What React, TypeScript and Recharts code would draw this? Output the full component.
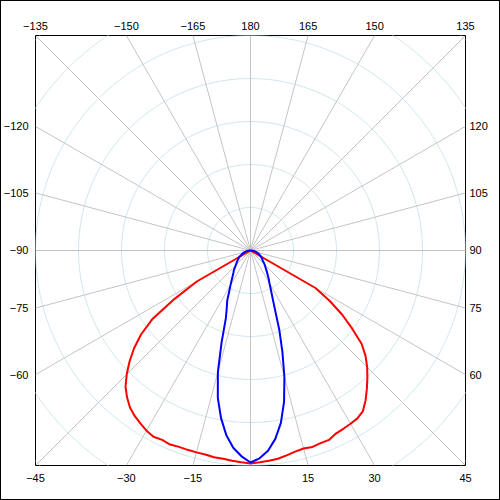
import React from 'react';
import { ScatterChart, Scatter, XAxis, YAxis } from 'recharts';

// Polar photometric diagram: gamma angle 0 points down, +90 to the right.
const EDGE = 215; // intensity at the plot edge
const RING_STEP = 43;
const RING_COUNT = 7;

const gammaAngles = [
  -90, -87.5, -85, -82.5, -80, -77.5, -75, -72.5, -70, -67.5, -65, -62.5,
  -60, -57.5, -55, -52.5, -50, -47.5, -45, -42.5, -40, -37.5, -35, -32.5,
  -30, -27.5, -25, -22.5, -20, -17.5, -15, -12.5, -10, -7.5, -5, -2.5,
  0,
  2.5, 5, 7.5, 10, 12.5, 15, 17.5, 20, 22.5, 25, 27.5, 30,
  32.5, 35, 37.5, 40, 42.5, 45, 47.5, 50, 52.5, 55, 57.5, 60,
  62.5, 65, 67.5, 70, 72.5, 75, 77.5, 80, 82.5, 85, 87.5, 90,
];

const redValues = [
  0, 0, 0, 0, 0, 0, 0, 0, 0, 0, 0, 0,
  62, 90, 120, 138, 152, 164, 175, 185, 192, 198, 202, 205,
  208, 210, 209, 210, 209, 209, 209, 209, 210, 210, 211, 212,
  213,
  212, 211, 210, 208, 206, 205, 206, 205, 205, 202, 201, 200,
  199, 196, 189, 181, 173, 165, 156, 145, 128, 112, 94, 75,
  0, 0, 0, 0, 0, 0, 0, 0, 0, 0, 0, 0,
];

const blueValues = [
  0, 1, 2, 3, 4, 5, 6, 7, 8, 9, 10, 11,
  13, 14, 15, 16, 18, 19, 21, 23, 26, 28, 31, 35,
  40, 46, 55, 62, 72, 96, 126, 151, 170, 186, 198, 206,
  212,
  208, 201, 190, 175, 155, 131, 106, 84, 64, 52, 44, 38,
  34, 30, 27, 24, 22, 20, 18, 16, 15, 14, 13, 12,
  11, 10, 9, 8, 7, 6, 5, 4, 3, 2, 1, 0,
];

const bottomLabels = [-45, -30, -15, 15, 30, 45];
const topLabels = [-135, -150, -165, 180, 165, 150, 135];
const leftLabels = [-60, -75, -90, -105, -120];
const rightLabels = [60, 75, 90, 105, 120];
const spokeAngles = [0, 15, 30, 45, 60, 75, 90, 105, 120, 135, 150, 165, 180, 195, 210, 225, 240, 255, 270, 285, 300, 315, 330, 345];

const RED = '#ff0000';
const BLUE = '#0000ff';
const RING_COLOR = '#cfe7ee';
const SPOKE_COLOR = '#c4c4c4';

const rad = (d: number) => (d * Math.PI) / 180;
const toXY = (deg: number, r: number) => ({ x: r * Math.sin(rad(deg)), y: -r * Math.cos(rad(deg)) });

const redPts = gammaAngles.map((a, i) => toXY(a, redValues[i]));
const bluePts = gammaAngles.map((a, i) => toXY(a, blueValues[i]));

const rings = Array.from({ length: RING_COUNT }, (_, k) => {
  const r = RING_STEP * (k + 1);
  const pts = [] as { x: number; y: number }[];
  for (let d = 0; d <= 360; d += 2) pts.push(toXY(d, r));
  return pts;
});

const spokes = spokeAngles.map((a) => {
  const s = Math.sin(rad(a));
  const c = -Math.cos(rad(a));
  const t = EDGE / Math.max(Math.abs(s), Math.abs(c));
  return [{ x: 0, y: 0 }, { x: t * s, y: t * c }];
});

const tanD = (d: number) => Math.tan(rad(d));
const bottomPos = bottomLabels.map((a) => EDGE * tanD(a));
const topPos = topLabels.map((a) => EDGE * tanD(Math.sign(a) * (180 - Math.abs(a))));
const leftPos = leftLabels.map((a) => EDGE * tanD(-90 - a));
const rightPos = rightLabels.map((a) => EDGE * tanD(a - 90));

const fmt = (n: number) => (n < 0 ? '\u2212' + Math.abs(n) : String(n));
const makeFormatter = (pos: number[], labels: number[]) => (v: number) => {
  let best = 0;
  for (let i = 1; i < pos.length; i++) if (Math.abs(pos[i] - v) < Math.abs(pos[best] - v)) best = i;
  return fmt(labels[best]);
};

const tickStyle = { fontSize: 11, fill: '#000', fontFamily: '"Liberation Sans", Arial, sans-serif' };
const noShape = () => <g />;
const domain: [number, number] = [-EDGE, EDGE];

export default function App() {
  return (
    <div style={{ position: 'absolute', left: 0, top: 0, width: 500, height: 500, background: '#fff' }}>
      <ScatterChart width={500} height={500} margin={{ top: 0, right: 0, bottom: 0, left: 0 }}>
        <XAxis
          xAxisId="b"
          type="number"
          dataKey="x"
          orientation="bottom"
          domain={domain}
          allowDataOverflow
          ticks={bottomPos}
          interval={0}
          tickFormatter={makeFormatter(bottomPos, bottomLabels)}
          height={34.5}
          tickLine={false}
          tickSize={6}
          tickMargin={3}
          axisLine={{ stroke: '#000' }}
          tick={tickStyle}
        />
        <XAxis
          xAxisId="t"
          type="number"
          dataKey="x"
          orientation="top"
          domain={domain}
          allowDataOverflow
          ticks={topPos}
          interval={0}
          tickFormatter={makeFormatter(topPos, topLabels)}
          height={35.5}
          tickLine={false}
          tickSize={4}
          tickMargin={2}
          axisLine={{ stroke: '#000' }}
          tick={tickStyle}
        />
        <YAxis
          yAxisId="l"
          type="number"
          dataKey="y"
          orientation="left"
          domain={domain}
          allowDataOverflow
          ticks={leftPos}
          interval={0}
          tickFormatter={makeFormatter(leftPos, leftLabels)}
          width={35.5}
          tickLine={false}
          tickSize={4}
          tickMargin={3}
          axisLine={{ stroke: '#000' }}
          tick={tickStyle}
        />
        <YAxis
          yAxisId="r"
          type="number"
          dataKey="y"
          orientation="right"
          domain={domain}
          allowDataOverflow
          ticks={rightPos}
          interval={0}
          tickFormatter={makeFormatter(rightPos, rightLabels)}
          width={34.5}
          tickLine={false}
          tickSize={2}
          tickMargin={2}
          axisLine={{ stroke: '#000' }}
          tick={tickStyle}
        />
        {rings.map((pts, i) => (
          <Scatter
            key={'ring' + i}
            xAxisId="b"
            yAxisId="l"
            data={pts}
            line={{ stroke: RING_COLOR, strokeWidth: 1 }}
            shape={noShape}
            isAnimationActive={false}
            legendType="none"
          />
        ))}
        {spokes.map((pts, i) => (
          <Scatter
            key={'spoke' + i}
            xAxisId="b"
            yAxisId="l"
            data={pts}
            line={{ stroke: SPOKE_COLOR, strokeWidth: 1 }}
            shape={noShape}
            isAnimationActive={false}
            legendType="none"
          />
        ))}
        <Scatter
          xAxisId="b"
          yAxisId="l"
          data={redPts}
          line={{ stroke: RED, strokeWidth: 2, strokeLinejoin: 'round' }}
          shape={noShape}
          isAnimationActive={false}
          legendType="none"
        />
        <Scatter
          xAxisId="b"
          yAxisId="l"
          data={bluePts}
          line={{ stroke: BLUE, strokeWidth: 2, strokeLinejoin: 'round' }}
          shape={noShape}
          isAnimationActive={false}
          legendType="none"
        />
      </ScatterChart>
      <div
        style={{
          position: 'absolute',
          left: 0,
          top: 0,
          width: 500,
          height: 500,
          border: '1px solid #000',
          boxSizing: 'border-box',
          pointerEvents: 'none',
        }}
      />
    </div>
  );
}
